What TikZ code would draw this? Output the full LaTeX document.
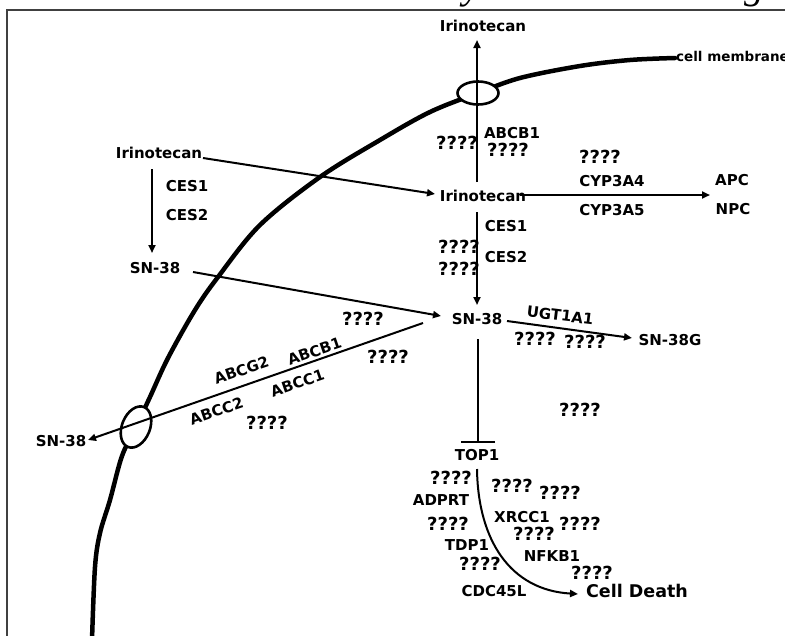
\documentclass[tikz,border=0pt]{standalone}
\usepackage{fontspec}
\setmainfont{DejaVu Sans}
\newfontfamily\titlefont{Liberation Serif}
\usetikzlibrary{arrows.meta}
\begin{document}
\begin{tikzpicture}[x=1pt,y=-1pt,
  lbl/.style={font=\bfseries\fontsize{15}{15}\selectfont, inner sep=0pt, text height=0.73em, text depth=0pt},
  qm/.style={font=\bfseries\fontsize{18}{18}\selectfont, inner sep=0pt, text height=0.73em, text depth=0pt},
  big/.style={font=\bfseries\fontsize{17.5}{17.5}\selectfont, inner sep=0pt, text height=0.73em, text depth=0pt},
  small/.style={font=\bfseries\fontsize{13.5}{13.5}\selectfont, inner sep=0pt, text height=0.73em, text depth=0pt},
  arr/.style={line width=2pt, -{Triangle[length=8pt,width=7pt]}},
  inhib/.style={line width=2.2pt, -{Bar[width=34pt]}},
  membrane/.style={line width=4.5pt, line cap=round},
  pore/.style={line width=2.6pt, fill=white},
  frame/.style={line width=1.3pt, draw=black!75}]
\useasboundingbox (0,0) rectangle (785,635);
\clip (0,0) rectangle (785,635);

% heading line, mostly above the page
\node[anchor=base west, inner sep=0pt, font=\titlefont\itshape\fontsize{40}{40}\selectfont] (heading) at (152,-2) {we do not know very much about drugs};

% frame
\draw[frame] (7,640) -- (7,10) -- (790,10);

% cell membrane
\draw[membrane] plot[smooth, tension=0.55] coordinates {(92,640) (95,567) (100,533) (110,500) (122,456) (136,427) (150,397) (168,358) (195,310) (218,277) (260,225) (320,177) (380,140) (430,112) (478,93) (520,78) (580,66) (630,60) (675,58)};
\node[small, anchor=west] (memlbl) at (676,58) {cell membrane};

% transporter pores
\draw[pore] (478,93) ellipse [x radius=20.5pt, y radius=11.5pt];
\draw[pore, rotate around={-22:(136,427)}] (136,427) ellipse [x radius=14pt, y radius=21.5pt];

% outside / left side
\node[lbl] (iriTop) at (483,28) {Irinotecan};
\node[lbl] (iriL) at (159,155) {Irinotecan};
\node[lbl] (ces1L) at (187,188) {CES1};
\node[lbl] (ces2L) at (187,217) {CES2};
\node[lbl] (snL) at (155,270) {SN-38};
\node[lbl] (snOut) at (61,443) {SN-38};

% inside
\node[lbl] (iriM) at (483,198) {Irinotecan};
\node[lbl] (abcbT) at (512,135) {ABCB1};
\node[qm] (qa) at (457,146) {????};
\node[qm] (qb) at (508,153) {????};
\node[qm] (qc) at (600,160) {????};
\node[lbl] (cyp4) at (612,183) {CYP3A4};
\node[lbl] (cyp5) at (612,212) {CYP3A5};
\node[lbl] (apc) at (732,182) {APC};
\node[lbl] (npc) at (733,211) {NPC};
\node[lbl] (ces1M) at (506,228) {CES1};
\node[qm] (qd) at (459,250) {????};
\node[lbl] (ces2M) at (506,259) {CES2};
\node[qm] (qe) at (459,272) {????};
\node[lbl] (snM) at (477,321) {SN-38};
\node[lbl, rotate=-7] (ugt) at (560,317) {UGT1A1};
\node[qm] (qf) at (535,342) {????};
\node[qm] (qg) at (585,345) {????};
\node[lbl] (sng) at (670,342) {SN-38G};
\node[qm] (qh) at (580,413) {????};

% efflux labels
\node[lbl, rotate=19] (abcg2) at (242,372) {ABCG2};
\node[lbl, rotate=19] (abcb1) at (315,353) {ABCB1};
\node[lbl, rotate=19] (abcc1) at (298,385) {ABCC1};
\node[lbl, rotate=19] (abcc2) at (217,413) {ABCC2};
\node[qm] (qi) at (363,322) {????};
\node[qm] (qj) at (388,360) {????};
\node[qm] (qk) at (267,426) {????};

% downstream of TOP1
\node[lbl] (top1) at (477,457) {TOP1};
\node[qm] (q1) at (451,481) {????};
\node[lbl] (adprt) at (441,502) {ADPRT};
\node[qm] (q2) at (448,527) {????};
\node[lbl] (tdp1) at (467,547) {TDP1};
\node[qm] (q3) at (480,567) {????};
\node[lbl] (cdc) at (494,593) {CDC45L};
\node[qm] (q4) at (512,489) {????};
\node[qm] (q5) at (560,496) {????};
\node[lbl] (xrcc) at (522,519) {XRCC1};
\node[qm] (q6) at (580,527) {????};
\node[qm] (q7) at (534,537) {????};
\node[lbl] (nfkb) at (552,558) {NFKB1};
\node[qm] (q8) at (592,576) {????};
\node[big] (death) at (637,594) {Cell Death};

% connector end points
\coordinate (effluxStart) at (477,182);
\coordinate (effluxEnd) at (477,40);
\coordinate (iriLs) at (203,158);
\coordinate (iriMe) at (435,194);
\coordinate (cesLs) at (152,169);
\coordinate (cesLe) at (152,253);
\coordinate (snLs) at (193,272);
\coordinate (snMe) at (441,316);
\coordinate (cypS) at (520,195);
\coordinate (cypE) at (710,195);
\coordinate (cesMs) at (477,212);
\coordinate (cesMe) at (477,305);
\coordinate (ugtS) at (507,321);
\coordinate (ugtE) at (632,338);
\coordinate (outS) at (423,323);
\coordinate (outE) at (88,440);
\coordinate (inhS) at (478,339);
\coordinate (inhE) at (478,443);
\coordinate (deathS) at (477,469);
\coordinate (deathE) at (578,594);

% connectors
\draw[arr] (effluxStart) -- (effluxEnd);
\draw[arr] (iriLs) -- (iriMe);
\draw[arr] (cesLs) -- (cesLe);
\draw[arr] (snLs) -- (snMe);
\draw[arr] (cypS) -- (cypE);
\draw[arr] (cesMs) -- (cesMe);
\draw[arr] (ugtS) -- (ugtE);
\draw[arr] (outS) -- (outE);
\draw[inhib] (inhS) -- (inhE);
\draw[arr] (deathS) .. controls (478,540) and (510,590) .. (deathE);
\end{tikzpicture}
\end{document}
